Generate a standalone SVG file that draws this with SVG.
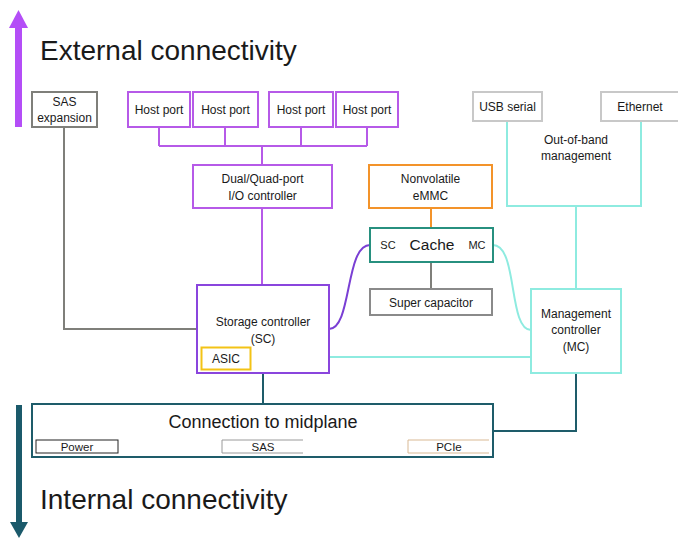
<svg xmlns="http://www.w3.org/2000/svg" width="678" height="538" viewBox="0 0 678 538">
  <style>
    text { font-family: "Liberation Sans", Arial, sans-serif; fill: #1a1a1a; }
    .lbl { font-size: 12px; text-anchor: middle; }
    .title { font-size: 28px; }
    .box { fill: #ffffff; stroke-width: 2; }
    .purple { stroke: #b65ae8; }
    .sc { stroke: #8a45dd; }
    .grey { stroke: #7f7f7a; }
    .lgrey { stroke: #c8c8c8; }
    .orange { stroke: #f3932a; }
    .teal { stroke: #27907f; }
    .lteal { stroke: #8eebe0; }
    .dteal { stroke: #1e5c6a; }
    .wire { fill: none; stroke-width: 2; }
    .slot { font-size: 11.5px; text-anchor: middle; }
    .port { font-size: 11px; }
    .big { font-size: 15.5px; }
  </style>

  <!-- direction arrows -->
  <g id="arrow-external">
    <rect x="15" y="27" width="7" height="100" fill="#b44ef7"/>
    <polygon points="18.5,10 28,28 9,28" fill="#b44ef7"/>
    <text class="title" x="40" y="60">External connectivity</text>
  </g>
  <g id="arrow-internal">
    <rect x="16" y="405" width="6" height="118" fill="#1b5a6b"/>
    <polygon points="19,538 28,522 10,522" fill="#1b5a6b"/>
    <text class="title" x="40" y="509">Internal connectivity</text>
  </g>

  <!-- connectors -->
  <g id="connectors">
    <!-- host port bus -->
    <path class="wire purple" d="M159,127 V146 M225,127 V146 M301,127 V146 M367,127 V146 M159,146 H367 M262,146 V165"/>
    <path class="wire purple" d="M262,208 V285"/>
    <!-- SAS expansion to storage controller -->
    <path class="wire grey" d="M64,127 V329 H197"/>
    <!-- eMMC to cache -->
    <path class="wire orange" d="M431,208 V228"/>
    <!-- cache to super capacitor -->
    <path class="wire grey" d="M431,262 V289"/>
    <!-- storage controller to cache SC port -->
    <path class="wire" stroke="#7a3fd4" d="M329,329 C352,329 345,245 370,245"/>
    <!-- cache MC port to management controller -->
    <path class="wire lteal" d="M493,245 C518,245 508,330 531,330"/>
    <!-- storage controller to management controller -->
    <path class="wire lteal" d="M329,357 H531"/>
    <!-- out-of-band management -->
    <path class="wire lteal" d="M507,122 V206 H641 V122 M576,206 V289"/>
    <!-- to midplane -->
    <path class="wire dteal" d="M263,373 V404"/>
    <path class="wire dteal" d="M576,373 V431 H493"/>
  </g>

  <!-- external ports -->
  <g id="sas-expansion">
    <rect class="box grey" x="32" y="92" width="65" height="35" stroke-width="2.5"/>
    <text class="lbl" x="64.5" y="106">SAS</text>
    <text class="lbl" x="64.5" y="122">expansion</text>
  </g>
  <g id="host-port-1">
    <rect class="box purple" x="128" y="92" width="62" height="35"/>
    <text class="lbl" x="159" y="114">Host port</text>
  </g>
  <g id="host-port-2">
    <rect class="box purple" x="193" y="92" width="65" height="35"/>
    <text class="lbl" x="225.5" y="114">Host port</text>
  </g>
  <g id="host-port-3">
    <rect class="box purple" x="269" y="92" width="64" height="35"/>
    <text class="lbl" x="301" y="114">Host port</text>
  </g>
  <g id="host-port-4">
    <rect class="box purple" x="336" y="92" width="62" height="35"/>
    <text class="lbl" x="367" y="114">Host port</text>
  </g>
  <g id="usb-serial">
    <rect class="box lgrey" x="473" y="92" width="69" height="29"/>
    <text class="lbl" x="507.5" y="111">USB serial</text>
  </g>
  <g id="ethernet">
    <rect class="box lgrey" x="601" y="92" width="80" height="29"/>
    <text class="lbl" x="640" y="111">Ethernet</text>
  </g>
  <g id="out-of-band">
    <text class="lbl" x="576" y="144">Out-of-band</text>
    <text class="lbl" x="576" y="160">management</text>
  </g>

  <!-- controllers -->
  <g id="io-controller">
    <rect class="box purple" x="193" y="165" width="139" height="43"/>
    <text class="lbl" x="262.5" y="183">Dual/Quad-port</text>
    <text class="lbl" x="262.5" y="200">I/O controller</text>
  </g>
  <g id="emmc">
    <rect class="box orange" x="369" y="165" width="123" height="43"/>
    <text class="lbl" x="430.5" y="183">Nonvolatile</text>
    <text class="lbl" x="430.5" y="200">eMMC</text>
  </g>
  <g id="cache">
    <rect class="box teal" x="370" y="228" width="123" height="34"/>
    <text class="lbl port" x="388" y="249">SC</text>
    <text class="lbl big" x="432" y="250">Cache</text>
    <text class="lbl port" x="477" y="249">MC</text>
  </g>
  <g id="super-capacitor">
    <rect class="box" stroke="#8a8a8a" x="370" y="289" width="122" height="26"/>
    <text class="lbl" x="431" y="307">Super capacitor</text>
  </g>
  <g id="storage-controller">
    <rect class="box sc" x="197" y="285" width="132" height="88"/>
    <text class="lbl" x="263" y="326">Storage controller</text>
    <text class="lbl" x="263" y="343">(SC)</text>
  </g>
  <g id="asic">
    <rect class="box" stroke="#f3c316" stroke-width="3" x="201.5" y="347.5" width="49" height="22"/>
    <text class="lbl" x="226" y="363">ASIC</text>
  </g>
  <g id="management-controller">
    <rect class="box lteal" x="531" y="289" width="90" height="84"/>
    <text class="lbl" x="576" y="318">Management</text>
    <text class="lbl" x="576" y="334">controller</text>
    <text class="lbl" x="576" y="351">(MC)</text>
  </g>

  <!-- midplane -->
  <g id="midplane">
    <rect class="box dteal" x="32" y="404" width="461" height="53"/>
    <text x="263" y="428" font-size="18" text-anchor="middle">Connection to midplane</text>
    <rect x="36" y="440" width="82" height="13" fill="none" stroke="#222222" stroke-width="1"/>
    <text class="slot" x="77" y="451">Power</text>
    <path d="M303,440 H222 V453 H303" fill="none" stroke="#9a9a9a" stroke-width="1"/>
    <text class="slot" x="263" y="451">SAS</text>
    <path d="M489,440 H408 V453 H489" fill="none" stroke="#d9b994" stroke-width="1"/>
    <text class="slot" x="449" y="451">PCIe</text>
  </g>
</svg>
